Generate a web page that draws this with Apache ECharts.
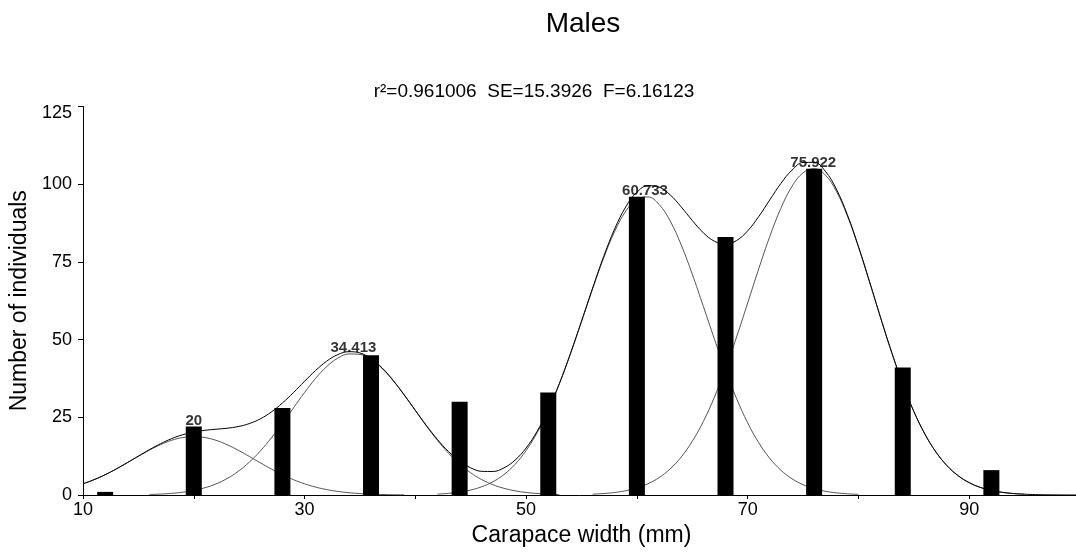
<!DOCTYPE html>
<html>
<head>
<meta charset="utf-8">
<title>Males</title>
<script src="https://cdn.jsdelivr.net/npm/echarts@6/dist/echarts.min.js"></script>
<style>
  html, body { margin: 0; padding: 0; background: #fff; }
  #chart { width: 1076px; height: 557px; }
</style>
</head>
<body>
<div id="chart"></div>
<script>
// Carapace-width size classes (mm) and number of males in each
const widthClasses = [12, 20, 28, 36, 44, 52, 60, 68, 76, 84, 92];
const counts = [1, 22, 28, 45, 30, 33, 96, 83, 105, 41, 8];

// Fitted mixture: overall curve, sampled every 1 mm from 10 mm
const fitStartX = 10;
const fitTotal = [
  3.60, 4.93, 6.53, 8.38, 10.42, 12.53, 14.60, 16.50, 18.13, 19.39,
  20.27, 20.82, 21.16, 21.48, 22.01, 22.96, 24.49, 26.71, 29.59, 32.96,
  36.58, 40.07, 43.06, 45.17, 46.11, 45.70, 43.91, 40.90, 36.87, 32.19,
  27.26, 22.36, 17.86, 13.98, 10.90, 8.74, 7.61, 7.57, 8.73, 11.21,
  15.12, 20.54, 27.48, 35.88, 45.53, 55.94, 66.55, 76.72, 85.66, 92.73,
  97.42, 99.51, 99.08, 96.58, 92.70, 88.33, 84.37, 81.65, 80.73, 81.88,
  84.99, 89.59, 94.97, 100.26, 104.52, 106.98, 107.03, 104.21, 98.47, 90.17,
  79.97, 68.67, 57.07, 45.90, 35.71, 26.89, 19.60, 13.81, 9.42, 6.21,
  3.97, 2.45, 1.46, 0.85, 0.47, 0.26, 0.13, 0.07, 0.03, 0.01, 0.01
];

// Individual normal components (1 mm steps from each start)
const comp1Start = 10;
const comp1 = [
  3.60, 4.93, 6.53, 8.36, 10.37, 12.44, 14.43, 16.20, 17.60, 18.49,
  18.80, 18.49, 17.60, 16.20, 14.43, 12.44, 10.37, 8.36, 6.53, 4.93,
  3.60, 2.54, 1.74, 1.15, 0.74, 0.46, 0.27, 0.16, 0.09, 0.05
];
const comp2Start = 16;
const comp2 = [
  0.17, 0.30, 0.53, 0.90, 1.47, 2.33, 3.56, 5.28, 7.58, 10.52,
  14.12, 18.35, 23.06, 28.03, 32.98, 37.53, 41.32, 44.02, 45.37, 45.24,
  43.64, 40.74, 36.78, 32.14, 27.16, 22.21, 17.57, 13.45, 9.96, 7.14,
  4.95, 3.32, 2.15, 1.35, 0.82, 0.48, 0.27, 0.15
];
const comp3Start = 42;
const comp3 = [
  0.29, 0.53, 0.94, 1.60, 2.66, 4.25, 6.58, 9.86, 14.30, 20.06,
  27.21, 35.73, 45.38, 55.76, 66.29, 76.25, 84.85, 91.35, 95.15, 95.89,
  93.49, 88.18, 80.47, 71.05, 60.69, 50.16, 40.10, 31.02, 23.22, 16.81,
  11.77, 7.98, 5.23, 3.32, 2.04, 1.21, 0.70, 0.39, 0.21
];
const comp4Start = 56;
const comp4 = [
  0.26, 0.47, 0.81, 1.38, 2.27, 3.62, 5.59, 8.40, 12.23, 17.28,
  23.68, 31.49, 40.63, 50.86, 61.77, 72.78, 83.20, 92.28, 99.29, 103.66,
  104.99, 103.00, 97.77, 89.78, 79.76, 68.56, 57.02, 45.87, 35.71, 26.89,
  19.60, 13.81, 9.42, 6.21, 3.97, 2.45, 1.46, 0.85, 0.47, 0.26
];

// Component means (mm) and their peak heights
const peakMeans = [20, 34.413, 60.733, 75.922];
const peakHeights = [18.8, 45.5, 96, 105];
const peakLabels = ['20', '34.413', '60.733', '75.922'];

const titleText = 'Males';
const statsText = 'r\u00b2=0.961006  SE=15.3926  F=6.16123';
const xName = 'Carapace width (mm)';
const yName = 'Number of individuals';

const FONT = '"Liberation Sans", Arial, Helvetica, sans-serif';

const toPairs = (x0, ys) => ys.map((y, i) => [x0 + i, y]);

const curveLine = (name, data, color) => ({
  name: name,
  type: 'line',
  data: data,
  smooth: 0.4,
  symbol: 'none',
  silent: true,
  z: 2,
  lineStyle: { color: color, width: 1 }
});

const chart = echarts.init(document.getElementById('chart'), null, { renderer: 'canvas' });

chart.setOption({
  animation: false,
  backgroundColor: '#ffffff',
  textStyle: { fontFamily: FONT },
  graphic: [
    {
      type: 'text', x: 583, y: 24,
      style: { text: titleText, fontSize: 28, fontFamily: FONT, fill: '#000',
               align: 'center', verticalAlign: 'middle' }
    },
    {
      type: 'text', x: 534, y: 92,
      style: { text: statsText, fontSize: 19, fontFamily: FONT, fill: '#000',
               align: 'center', verticalAlign: 'middle' }
    }
  ],
  grid: {
    left: 83, right: -4, top: 106.5, bottom: 62,
    containLabel: false, outerBoundsMode: 'none'
  },
  xAxis: {
    type: 'value',
    min: 10, max: 100, interval: 10,
    name: xName,
    nameLocation: 'middle',
    nameGap: 29,
    nameTextStyle: { fontSize: 23, color: '#000', fontFamily: FONT },
    axisLine: { show: true, onZero: false, lineStyle: { color: '#000', width: 1 } },
    axisTick: { show: true, inside: false, length: 4, lineStyle: { color: '#000' } },
    axisLabel: {
      fontSize: 18, color: '#000', margin: 6, fontFamily: FONT,
      formatter: v => ((v - 10) % 20 === 0 && v < 100 ? String(v) : '')
    },
    splitLine: { show: false }
  },
  yAxis: {
    type: 'value',
    min: 0, max: 125, interval: 25,
    name: yName,
    nameLocation: 'middle',
    nameGap: 46,
    nameTextStyle: { fontSize: 23, color: '#000', fontFamily: FONT },
    axisLine: { show: true, lineStyle: { color: '#000', width: 1 } },
    axisTick: { show: true, inside: false, length: 5, lineStyle: { color: '#000' } },
    axisLabel: {
      fontSize: 18, color: '#000', margin: 11, fontFamily: FONT,
      formatter: v => (v === 125 ? '{top|125}' : String(v)),
      rich: { top: { fontSize: 18, fontFamily: FONT, color: '#000', padding: [14, 0, 0, 0] } }
    },
    splitLine: { show: false }
  },
  series: [
    curveLine('comp1', toPairs(comp1Start, comp1), '#555'),
    curveLine('comp2', toPairs(comp2Start, comp2), '#555'),
    curveLine('comp3', toPairs(comp3Start, comp3), '#555'),
    curveLine('comp4', toPairs(comp4Start, comp4), '#555'),
    curveLine('total', toPairs(fitStartX, fitTotal), '#000'),
    {
      name: 'counts',
      type: 'bar',
      data: widthClasses.map((x, i) => [x, counts[i]]),
      barWidth: 16,
      silent: true,
      z: 3,
      itemStyle: { color: '#000' }
    },
    {
      name: 'means',
      type: 'scatter',
      symbolSize: 0,
      silent: true,
      z: 4,
      data: peakMeans.map((m, i) => ({
        value: [m, peakHeights[i]],
        label: i === 0 ? { offset: [0, -10] } : {}
      })),
      label: {
        show: true,
        position: 'top',
        distance: -2,
        fontSize: 15,
        fontWeight: 'bold',
        color: '#000',
        textBorderWidth: 0,
        fontFamily: FONT,
        formatter: p => peakLabels[p.dataIndex]
      }
    }
  ]
});
</script>
</body>
</html>
